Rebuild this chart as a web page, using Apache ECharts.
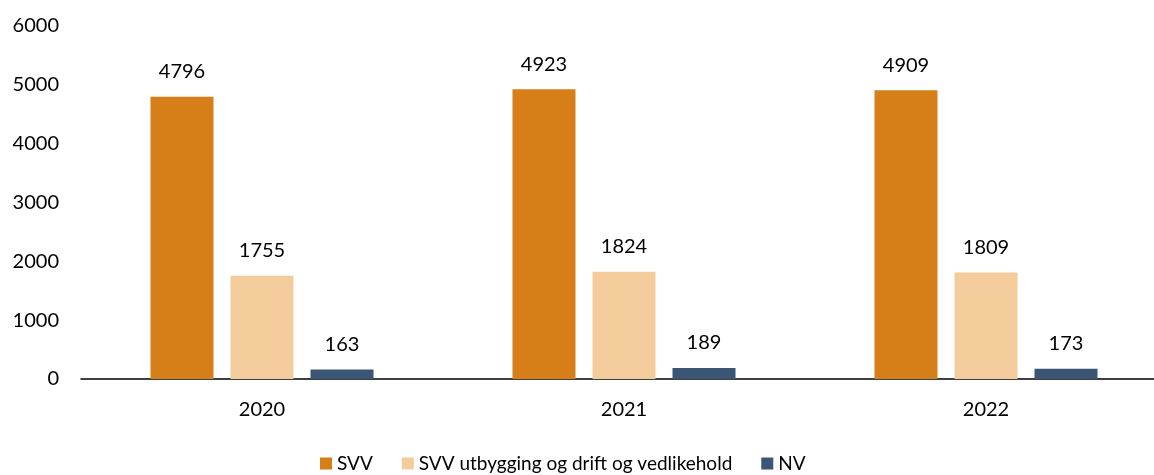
<!DOCTYPE html>
<html>
<head>
<meta charset="utf-8">
<script src="https://cdn.jsdelivr.net/npm/echarts@6/dist/echarts.min.js"></script>
<style>
  html, body { margin: 0; padding: 0; background: #fff; }
  #chart { width: 1154px; height: 475px; }
</style>
</head>
<body>
<div id="chart"></div>
<script>
const years = ['2020', '2021', '2022']
const svv = [4796, 4923, 4909]
const svvUtbygging = [1755, 1824, 1809]
const nv = [163, 189, 173]

const font = 'Lato, "Open Sans", sans-serif'

function barSeries(name, data, color) {
  return {
    name: name,
    type: 'bar',
    data: data,
    barWidth: 63,
    barGap: '27%',
    itemStyle: { color: color },
    label: {
      show: true,
      position: 'top',
      distance: 15,
      color: '#000',
      fontSize: 20,
      fontFamily: font
    }
  }
}

const chart = echarts.init(document.getElementById('chart'))
chart.setOption({
  animation: false,
  textStyle: { fontFamily: font },
  grid: { left: 81, top: 26, width: 1086, height: 353, outerBoundsMode: 'none', containLabel: false },
  legend: {
    top: 454,
    left: 320,
    padding: 0,
    itemWidth: 12,
    itemHeight: 12,
    itemGap: 29,
    icon: 'rect',
    textStyle: { fontSize: 19, color: '#000', fontFamily: font },
    data: ['SVV', 'SVV utbygging og drift og vedlikehold', 'NV']
  },
  xAxis: {
    type: 'category',
    data: years,
    axisLine: { lineStyle: { color: '#000', width: 1.5 } },
    axisTick: { show: false },
    axisLabel: { color: '#000', fontSize: 20, margin: 21 }
  },
  yAxis: {
    type: 'value',
    min: 0,
    max: 6000,
    interval: 1000,
    splitLine: { show: false },
    axisLine: { show: false },
    axisTick: { show: false },
    axisLabel: { color: '#000', fontSize: 20, margin: 22, formatter: v => String(v) }
  },
  series: [
    barSeries('SVV', svv, '#D67F18'),
    barSeries('SVV utbygging og drift og vedlikehold', svvUtbygging, '#F4CC9C'),
    barSeries('NV', nv, '#3A5674')
  ]
})
</script>
</body>
</html>
